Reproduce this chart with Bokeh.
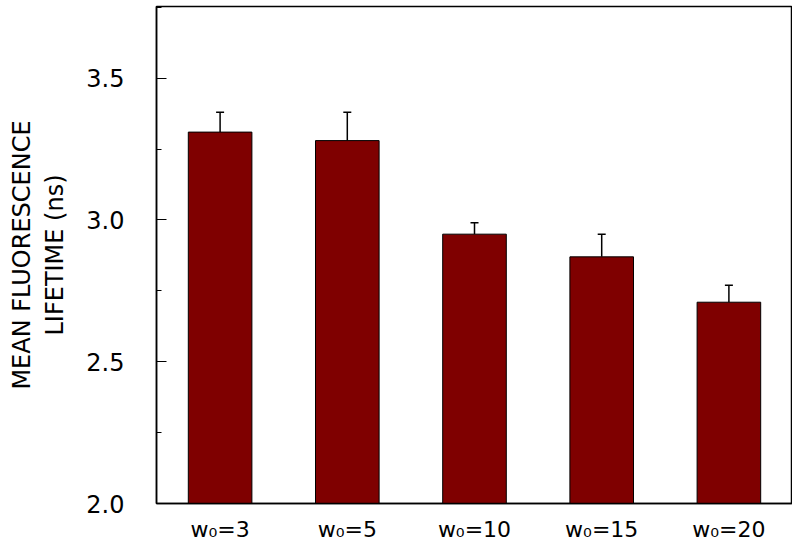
from bokeh.plotting import figure
from bokeh.models import ColumnDataSource, Whisker, TeeHead, FixedTicker, PrintfTickFormatter, Range1d
from bokeh.embed import file_html
from bokeh.resources import INLINE

categories = ["w\u2080=3", "w\u2080=5", "w\u2080=10", "w\u2080=15", "w\u2080=20"]
lifetime = [3.31, 3.28, 2.95, 2.87, 2.71]
errors = [0.07, 0.10, 0.04, 0.08, 0.06]
y_ticks = [2.0, 2.5, 3.0, 3.5]

src = ColumnDataSource(dict(
    x=categories,
    top=lifetime,
    upper=[v + e for v, e in zip(lifetime, errors)],
))

FONT = "DejaVu Sans"

p = figure(x_range=categories, y_range=Range1d(2.0, 3.753),
           width=792, height=541, output_backend="svg", toolbar_location=None,
           min_border_left=156, min_border_right=0, min_border_top=6, min_border_bottom=38)
p.frame_width = 636
p.frame_height = 497

p.vbar(x="x", top="top", bottom=2.0, width=0.5, source=src,
       fill_color="#7f0000", line_color="black", line_width=1)

w = Whisker(base="x", lower="top", upper="upper", source=src,
            line_color="black", line_width=1.5,
            upper_head=TeeHead(size=8, line_color="black", line_width=1.5),
            lower_head=None)
p.add_layout(w)

p.xgrid.visible = False
p.ygrid.visible = False
p.outline_line_color = "black"
p.outline_line_width = 1.5
p.outline_line_alpha = 1.0

ya = p.yaxis[0]
ya.ticker = FixedTicker(ticks=y_ticks, minor_ticks=[2.25, 2.75, 3.25, 3.75])
ya.formatter = PrintfTickFormatter(format="%.1f")
ya.major_tick_in = 10
ya.major_tick_out = 0
ya.minor_tick_in = 5
ya.minor_tick_out = 0
ya.major_tick_line_color = "black"
ya.minor_tick_line_color = "black"
ya.axis_line_color = "black"
ya.axis_line_width = 1.5
ya.major_label_text_font = FONT
ya.major_label_text_font_size = "24px"
ya.major_label_text_color = "black"
ya.major_label_standoff = 32
ya.axis_label = "MEAN FLUORESCENCE\nLIFETIME (ns)"
ya.axis_label_text_font = FONT
ya.axis_label_text_font_size = "24px"
ya.axis_label_text_font_style = "normal"
ya.axis_label_text_color = "black"
ya.axis_label_standoff = 14

xa = p.xaxis[0]
xa.major_tick_in = 0
xa.major_tick_out = 0
xa.minor_tick_line_color = None
xa.axis_line_color = "black"
xa.axis_line_width = 1.5
xa.major_label_text_font = FONT
xa.major_label_text_font_size = "22px"
xa.major_label_text_color = "black"
xa.major_label_standoff = 13

open("out.html", "w").write(file_html(p, INLINE))
